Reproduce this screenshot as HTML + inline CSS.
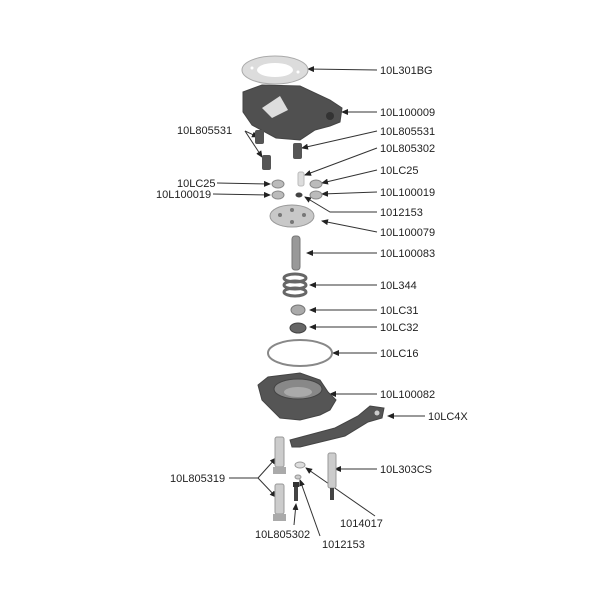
<!DOCTYPE html>
<html><head><style>
html,body{margin:0;padding:0;background:#fff;}
svg text{font-family:"Liberation Sans",Arial,sans-serif;font-size:11px;fill:#222;}
</style></head><body>
<svg width="600" height="600" viewBox="0 0 600 600" xmlns="http://www.w3.org/2000/svg">
<defs>
<marker id="a" markerWidth="7" markerHeight="6" refX="6" refY="3" orient="auto" markerUnits="userSpaceOnUse"><path d="M0,0 L7,3 L0,6 z" fill="#222"/></marker>
</defs>
<g stroke="#333" stroke-width="1" fill="none" marker-end="url(#a)">
<line x1="377" y1="70" x2="308" y2="69"/>
<line x1="377" y1="112" x2="342" y2="112"/>
<line x1="245" y1="131" x2="258" y2="137"/>
<line x1="245" y1="131" x2="262" y2="157"/>
<line x1="377" y1="131" x2="302" y2="148"/>
<line x1="377" y1="148" x2="305" y2="175"/>
<line x1="377" y1="170" x2="322" y2="183"/>
<line x1="217" y1="183" x2="270" y2="184"/>
<line x1="377" y1="192" x2="322" y2="194"/>
<line x1="213" y1="194" x2="270" y2="195"/>
<polyline points="377,212 330,212 305,197"/>
<line x1="377" y1="232" x2="322" y2="221"/>
<line x1="377" y1="253" x2="307" y2="253"/>
<line x1="377" y1="285" x2="310" y2="285"/>
<line x1="377" y1="310" x2="310" y2="310"/>
<line x1="377" y1="327" x2="310" y2="327"/>
<line x1="377" y1="353" x2="333" y2="353"/>
<line x1="377" y1="394" x2="330" y2="394"/>
<line x1="425" y1="416" x2="388" y2="416"/>
<line x1="377" y1="469" x2="335" y2="469"/>
<line x1="375" y1="516" x2="306" y2="468"/>
<line x1="320" y1="536" x2="300" y2="480"/>
<line x1="294" y1="525" x2="296" y2="504"/>
</g>
<g stroke="#333" stroke-width="1" fill="none">
<line x1="229" y1="478" x2="258" y2="478"/>
</g>
<g stroke="#333" stroke-width="1" fill="none" marker-end="url(#a)">
<line x1="258" y1="478" x2="276" y2="458"/>
<line x1="258" y1="478" x2="276" y2="497"/>
</g>

<ellipse cx="275" cy="70" rx="33" ry="14" fill="#dcdcdc" stroke="#aaa"/>
<ellipse cx="275" cy="70" rx="18" ry="7" fill="#fff"/>
<circle cx="252" cy="68" r="1.5" fill="#fff"/><circle cx="298" cy="72" r="1.5" fill="#fff"/>
<path d="M243,92 L262,85 L300,86 L330,100 L342,108 L340,122 L330,126 L315,130 L300,140 L276,138 L252,125 L243,112 Z" fill="#505050" stroke="#444"/>
<path d="M262,108 L280,96 L288,110 L272,118 Z" fill="#ddd"/>
<circle cx="330" cy="116" r="4" fill="#333"/>
<rect x="255" y="130" width="9" height="14" rx="2" fill="#555"/>
<rect x="262" y="155" width="9" height="15" rx="2" fill="#555"/>
<rect x="293" y="143" width="9" height="16" rx="2" fill="#555"/>
<rect x="298" y="172" width="6" height="14" rx="2" fill="#ddd" stroke="#bbb"/>
<ellipse cx="278" cy="184" rx="6" ry="4" fill="#bbb" stroke="#888"/>
<ellipse cx="278" cy="195" rx="6" ry="4" fill="#bbb" stroke="#888"/>
<ellipse cx="316" cy="184" rx="6" ry="4" fill="#bbb" stroke="#888"/>
<ellipse cx="316" cy="195" rx="6" ry="4" fill="#bbb" stroke="#888"/>
<ellipse cx="299" cy="195" rx="3.5" ry="2.5" fill="#444"/>
<ellipse cx="292" cy="216" rx="22" ry="11" fill="#c8c8c8" stroke="#999"/>
<circle cx="280" cy="215" r="2" fill="#777"/><circle cx="304" cy="215" r="2" fill="#777"/><circle cx="292" cy="210" r="2" fill="#777"/><circle cx="292" cy="222" r="2" fill="#777"/>
<rect x="292" y="236" width="8" height="34" rx="3" fill="#999" stroke="#777"/>
<g stroke="#666" stroke-width="3" fill="none">
<ellipse cx="295" cy="278" rx="11" ry="4"/><ellipse cx="295" cy="285" rx="11" ry="4"/><ellipse cx="295" cy="292" rx="11" ry="4"/>
</g>
<ellipse cx="298" cy="310" rx="7" ry="5" fill="#aaa" stroke="#777"/>
<ellipse cx="298" cy="328" rx="8" ry="5" fill="#666" stroke="#444"/>
<ellipse cx="300" cy="353" rx="32" ry="13" fill="#fff" stroke="#888" stroke-width="2"/>
<path d="M258,385 L268,377 L300,373 L320,380 L328,392 L336,400 L330,410 L320,415 L300,420 L280,418 L270,408 L262,400 Z" fill="#555" stroke="#444"/>
<ellipse cx="298" cy="389" rx="24" ry="10" fill="#888" stroke="#444"/>
<ellipse cx="298" cy="392" rx="14" ry="5" fill="#aaa"/>
<path d="M290,440 L335,428 L358,416 L370,406 L384,408 L382,418 L368,422 L345,436 L300,447 L292,447 Z" fill="#555" stroke="#444"/>
<circle cx="377" cy="413" r="2.5" fill="#ccc"/>
<rect x="275" y="437" width="9" height="30" rx="2" fill="#ccc" stroke="#999"/>
<rect x="273" y="467" width="13" height="7" fill="#aaa"/>
<rect x="275" y="484" width="9" height="30" rx="2" fill="#ccc" stroke="#999"/>
<rect x="273" y="514" width="13" height="7" fill="#aaa"/>
<rect x="293" y="482" width="6" height="5" fill="#333"/>
<rect x="294" y="487" width="4" height="14" fill="#444"/>
<ellipse cx="300" cy="465" rx="5" ry="3" fill="#ddd" stroke="#999"/>
<ellipse cx="298" cy="477" rx="3" ry="2" fill="#ccc" stroke="#999"/>
<rect x="328" y="453" width="8" height="35" rx="2" fill="#ccc" stroke="#999"/>
<rect x="330" y="488" width="4" height="12" fill="#444"/>

<text x="380" y="74">10L301BG</text>
<text x="380" y="116">10L100009</text>
<text x="177" y="134">10L805531</text>
<text x="380" y="135">10L805531</text>
<text x="380" y="152">10L805302</text>
<text x="380" y="174">10LC25</text>
<text x="177" y="187">10LC25</text>
<text x="156" y="198">10L100019</text>
<text x="380" y="196">10L100019</text>
<text x="380" y="216">1012153</text>
<text x="380" y="236">10L100079</text>
<text x="380" y="257">10L100083</text>
<text x="380" y="289">10L344</text>
<text x="380" y="314">10LC31</text>
<text x="380" y="331">10LC32</text>
<text x="380" y="357">10LC16</text>
<text x="380" y="398">10L100082</text>
<text x="428" y="420">10LC4X</text>
<text x="170" y="482">10L805319</text>
<text x="380" y="473">10L303CS</text>
<text x="340" y="527">1014017</text>
<text x="255" y="538">10L805302</text>
<text x="322" y="548">1012153</text>
</svg>
</body></html>
